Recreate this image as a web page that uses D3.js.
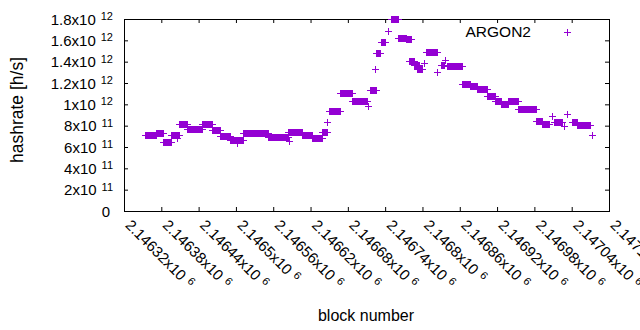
<!DOCTYPE html>
<html>
<head>
<meta charset="utf-8">
<script src="https://cdn.jsdelivr.net/npm/d3@7"></script>
<style>
  body { margin: 0; background: #fff; }
  text { font-family: "Liberation Sans", Arial, sans-serif; fill: #000; }
</style>
</head>
<body>
<svg id="chart" width="640" height="330"></svg>
<script>
// x axis ticks (block numbers) and their labels
const xTicks = [2146320, 2146380, 2146440, 2146500, 2146560, 2146620, 2146680,
                2146740, 2146800, 2146860, 2146920, 2146980, 2147040, 2147100];
const xTickMant = ["2.14632", "2.14638", "2.14644", "2.1465", "2.14656", "2.14662", "2.14668",
                   "2.14674", "2.1468", "2.14686", "2.14692", "2.14698", "2.14704", "2.1471"];
const xTickExp = 6;

// y axis ticks (hashrate) and labels
const yTicks = [0, 2e11, 4e11, 6e11, 8e11, 1e12, 1.2e12, 1.4e12, 1.6e12, 1.8e12];
const yTickMant = ["0", "2", "4", "6", "8", "1", "1.2", "1.4", "1.6", "1.8"];
const yTickExp = [null, 11, 11, 11, 11, 12, 12, 12, 12, 12];

// ARGON2 hashrate, one point per block, read as runs of blocks with the same value
const runStart = [2146353, 2146372, 2146382, 2146396, 2146406, 2146409, 2146422, 2146446, 2146462, 2146474,
                  2146490, 2146501, 2146511, 2146551, 2146583, 2146585, 2146607, 2146623, 2146638, 2146647,
                  2146650, 2146667, 2146687, 2146712, 2146715, 2146724, 2146726, 2146734, 2146744, 2146749,
                  2146761, 2146774, 2146779, 2146787, 2146792, 2146803, 2146806, 2146824, 2146830, 2146837,
                  2146840, 2146864, 2146876, 2146888, 2146903, 2146916, 2146927, 2146937, 2146953, 2146983,
                  2146993, 2147009, 2147012, 2147028, 2147032, 2147040, 2147048, 2147072];
const runEnd   = [2146372, 2146382, 2146396, 2146409, 2146406, 2146422, 2146446, 2146462, 2146474, 2146490,
                  2146511, 2146501, 2146551, 2146583, 2146607, 2146585, 2146623, 2146638, 2146647, 2146647,
                  2146667, 2146687, 2146711, 2146712, 2146726, 2146724, 2146731, 2146739, 2146744, 2146761,
                  2146774, 2146782, 2146787, 2146795, 2146800, 2146803, 2146824, 2146824, 2146835, 2146837,
                  2146864, 2146876, 2146888, 2146903, 2146916, 2146927, 2146937, 2146953, 2146983, 2146993,
                  2147004, 2147009, 2147025, 2147028, 2147032, 2147048, 2147069, 2147072];
const runValue = [7.08e11, 7.27e11, 6.45e11, 7.17e11, 6.89e11, 8.11e11, 7.73e11, 8.2e11, 7.55e11, 7.0e11,
                  6.64e11, 6.42e11, 7.27e11, 6.92e11, 7.43e11, 6.6e11, 7.08e11, 6.89e11, 7.36e11, 8.33e11,
                  9.36e11, 1.108e12, 1.03e12, 9.83e11, 1.13e12, 1.33e12, 1.48e12, 1.58e12, 1.69e12, 1.8e12,
                  1.62e12, 1.61e12, 1.41e12, 1.37e12, 1.33e12, 1.39e12, 1.49e12, 1.30e12, 1.37e12, 1.42e12,
                  1.36e12, 1.19e12, 1.17e12, 1.14e12, 1.08e12, 1.03e12, 1.0e12, 1.03e12, 9.52e11, 8.42e11,
                  8.11e11, 8.89e11, 8.36e11, 7.95e11, 9.05e11, 8.33e11, 8.08e11, 7.17e11];

const color = "#9400d3";
const W = 640, H = 330;
const mLeft = 124, mRight = 609, mTop = 19, mBottom = 211;

const svg = d3.select("#chart");
svg.append("rect").attr("width", W).attr("height", H).attr("fill", "#fff");

const x = d3.scaleLinear().domain([2146320, 2147100]).range([mLeft, mRight]);
const y = d3.scaleLinear().domain([0, 1.8e12]).range([mBottom, mTop]);

// inward ticks on all four sides
const tk = 4;
function ticks(axis, tx, ty) {
  svg.append("g").attr("transform", `translate(${tx},${ty})`)
    .call(axis.tickSize(-tk).tickFormat(""))
    .call(g => g.select(".domain").remove());
}
ticks(d3.axisLeft(y).tickValues(yTicks), mLeft, 0);
ticks(d3.axisRight(y).tickValues(yTicks), mRight, 0);
ticks(d3.axisBottom(x).tickValues(xTicks), 0, mBottom);
ticks(d3.axisTop(x).tickValues(xTicks), 0, mTop);

svg.append("rect")
  .attr("x", mLeft + 0.5).attr("y", mTop + 0.5)
  .attr("width", mRight - mLeft).attr("height", mBottom - mTop)
  .attr("fill", "none").attr("stroke", "#000");

// y tick labels
yTicks.forEach((v, i) => {
  const t = svg.append("text")
    .attr("x", yTickExp[i] == null ? 110 : 113)
    .attr("y", y(v) + 0.5 + 5)
    .attr("text-anchor", "end").attr("font-size", 15);
  if (yTickExp[i] == null) {
    t.text(yTickMant[i]);
  } else {
    t.append("tspan").text(yTickMant[i] + "x10");
    t.append("tspan").attr("dx", 5).attr("dy", -4.5).attr("font-size", 11).text(yTickExp[i]);
  }
});

// x tick labels, rotated (the last one runs off the right edge, as in the original)
xTicks.forEach((v, i) => {
  const t = svg.append("text")
    .attr("transform", `translate(${x(v) + 0.5},226) rotate(45)`)
    .attr("font-size", 15);
  t.append("tspan").text(xTickMant[i] + "x10");
  t.append("tspan").attr("dx", 5).attr("dy", -4.5).attr("font-size", 11).text(xTickExp);
});

// axis titles
svg.append("text")
  .attr("transform", "translate(23,110) rotate(-90)")
  .attr("text-anchor", "middle").attr("font-size", 17.5)
  .text("hashrate [h/s]");
svg.append("text")
  .attr("x", 366).attr("y", 321)
  .attr("text-anchor", "middle").attr("font-size", 16)
  .text("block number");

// points: a run of "+" marks one block apart merges into a bar
const pts = svg.append("g").attr("fill", color);
runStart.forEach((s, i) => {
  const x0 = Math.round(x(s)) + 0.5;
  const x1 = Math.round(x(runEnd[i])) + 0.5;
  const cy = Math.round(y(runValue[i])) + 0.5;
  pts.append("rect").attr("x", x0 - 3.5).attr("y", cy - 0.5)
    .attr("width", x1 - x0 + 7).attr("height", 1);
  pts.append("rect").attr("x", x0 - 0.5).attr("y", cy - 3.5)
    .attr("width", x1 - x0 + 1).attr("height", 7);
});

// legend
svg.append("text")
  .attr("x", 531).attr("y", 37)
  .attr("text-anchor", "end").attr("font-size", 15.5)
  .text("ARGON2");
const lg = svg.append("g").attr("fill", color);
lg.append("rect").attr("x", 564).attr("y", 32).attr("width", 7).attr("height", 1);
lg.append("rect").attr("x", 567).attr("y", 29).attr("width", 1).attr("height", 7);
</script>
</body>
</html>
